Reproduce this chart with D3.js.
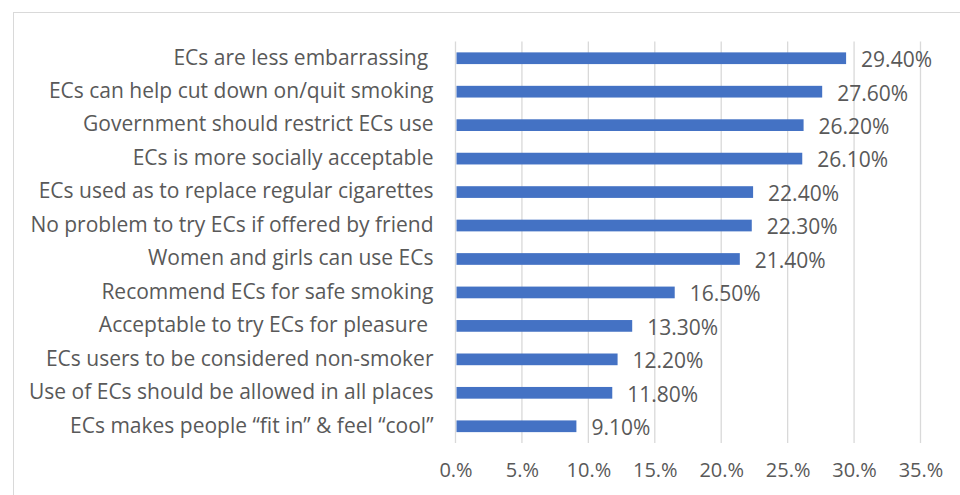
<!DOCTYPE html>
<html>
<head>
<meta charset="utf-8">
<script src="https://cdn.jsdelivr.net/npm/d3@7"></script>
<style>
  body { margin: 0; background: #fff; }
  text { font-family: "Open Sans", Lato, sans-serif; fill: #595959; }
</style>
</head>
<body>
<svg id="chart" width="960" height="495"></svg>
<script>
"use strict";

// categories, top to bottom as drawn
const categories = [
    "ECs are less embarrassing ",
    "ECs can help cut down on/quit smoking",
    "Government should restrict ECs use",
    "ECs is more socially acceptable",
    "ECs used as to replace regular cigarettes",
    "No problem to try ECs if offered by friend",
    "Women and girls can use ECs",
    "Recommend ECs for safe smoking",
    "Acceptable to try ECs for pleasure ",
    "ECs users to be considered non-smoker",
    "Use of ECs should be allowed in all places",
    "ECs makes people \u201cfit in\u201d & feel \u201ccool\u201d"
];
const values = [29.4, 27.6, 26.2, 26.1, 22.4, 22.3, 21.4, 16.5, 13.3, 12.2, 11.8, 9.1];
const xTicks = [0, 5, 10, 15, 20, 25, 30, 35];

(function draw()
{
    const svg = d3.select("#chart");
    const LEFT = 455.5, RIGHT = 920.5, TOP = 41.5, BOTTOM = 443;

    // outer chart border
    svg.append("rect")
       .attr("x", 13.5).attr("y", 12.5)
       .attr("width", 960).attr("height", 500)
       .attr("fill", "none")
       .attr("stroke", "#d9d9d9");

    let x = d3.scaleLinear().domain([0, 35]).range([LEFT, RIGHT]);
    let y = d3.scaleBand().domain(categories).range([TOP, BOTTOM]).paddingInner(0.65).paddingOuter(0.325);

    // gridlines
    svg.append("g")
       .selectAll("line")
       .data(xTicks)
       .join("line")
       .attr("x1", d => x(d)).attr("x2", d => x(d))
       .attr("y1", TOP).attr("y2", BOTTOM)
       .attr("stroke", "#d9d9d9")
       .attr("stroke-width", 1.3);

    // x axis labels
    let xAxis = d3.axisBottom(x).tickValues(xTicks).tickSize(0).tickPadding(0).tickFormat(d => d + ".%");
    let gx = svg.append("g")
       .attr("transform", "translate(0," + 463 + ")")
       .call(xAxis);
    gx.select(".domain").remove();
    gx.selectAll("text").style("font-size", "20px").attr("fill", "#595959").attr("font-family", null);

    // category labels
    let yAxis = d3.axisLeft(y).tickSize(0).tickPadding(22);
    let gy = svg.append("g")
       .attr("transform", "translate(" + LEFT + ",0)")
       .call(yAxis);
    gy.select(".domain").remove();
    gy.selectAll("text").style("font-size", "21px").attr("fill", "#595959").attr("font-family", null)
      .attr("dy", "0.3em")
      .style("white-space", "pre");

    // bars
    svg.append("g")
       .selectAll("rect")
       .data(values)
       .join("rect")
       .attr("x", x(0) + 1)
       .attr("y", (d, i) => y(categories[i]))
       .attr("width", d => x(d) - x(0) - 1)
       .attr("height", y.bandwidth())
       .attr("fill", "#4472c4");

    // value labels
    svg.append("g")
       .selectAll("text")
       .data(values)
       .join("text")
       .attr("x", d => x(d) + 15)
       .attr("y", (d, i) => y(categories[i]) + y.bandwidth() / 2)
       .attr("dy", "0.42em")
       .style("font-size", "21px")
       .text(d => d.toFixed(2) + "%");
})();
</script>
</body>
</html>
